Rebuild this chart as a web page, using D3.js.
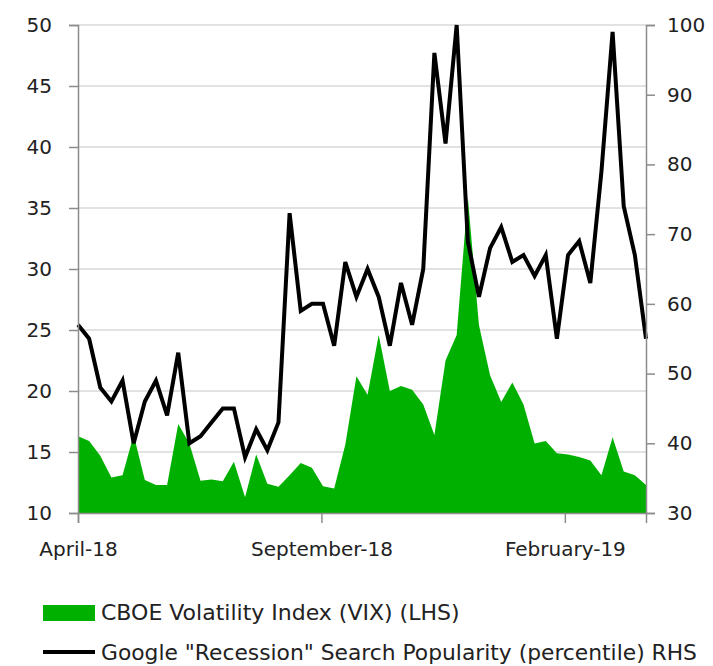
<!DOCTYPE html>
<html>
<head>
<meta charset="utf-8">
<script src="https://cdn.jsdelivr.net/npm/d3@7"></script>
<style>
  body { margin: 0; background: #fff; }
  text { font-family: "DejaVu Sans", sans-serif; fill: #222; }
  .grid line { stroke: #d9d9d9; stroke-width: 1.5; }
  .axis path, .axis line { stroke: #8c8c8c; stroke-width: 1.5; }
</style>
</head>
<body>
<svg id="chart" width="713" height="666"></svg>
<script>
// weekly observations
var weeks = [
  "2018-04-01", "2018-04-08", "2018-04-15", "2018-04-22", "2018-04-29",
  "2018-05-06", "2018-05-13", "2018-05-20", "2018-05-27",
  "2018-06-03", "2018-06-10", "2018-06-17", "2018-06-24",
  "2018-07-01", "2018-07-08", "2018-07-15", "2018-07-22", "2018-07-29",
  "2018-08-05", "2018-08-12", "2018-08-19", "2018-08-26",
  "2018-09-02", "2018-09-09", "2018-09-16", "2018-09-23", "2018-09-30",
  "2018-10-07", "2018-10-14", "2018-10-21", "2018-10-28",
  "2018-11-04", "2018-11-11", "2018-11-18", "2018-11-25",
  "2018-12-02", "2018-12-09", "2018-12-16", "2018-12-23", "2018-12-30",
  "2019-01-06", "2019-01-13", "2019-01-20", "2019-01-27",
  "2019-02-03", "2019-02-10", "2019-02-17", "2019-02-24",
  "2019-03-03", "2019-03-10", "2019-03-17", "2019-03-24"
];

var vix = [
  16.3, 15.9, 14.7, 12.9, 13.1, 16.4, 12.7, 12.3, 12.3, 17.3,
  15.7, 12.65, 12.75, 12.6, 14.2, 11.3, 14.8, 12.4, 12.15, 13.1,
  14.1, 13.7, 12.2, 12.0, 15.6, 21.2, 19.7, 24.6, 20.0, 20.4,
  20.1, 18.9, 16.4, 22.5, 24.6, 35.9, 25.4, 21.3, 19.1, 20.7,
  18.9, 15.7, 15.9, 14.9, 14.8, 14.6, 14.3, 13.1, 16.2, 13.4,
  13.1, 12.3
];

var recession = [
  57, 55, 48, 46, 49, 40, 46, 49, 44, 53,
  40, 41, 43, 45, 45, 38, 42, 39, 43, 73,
  59, 60, 60, 54, 66, 61, 65, 61, 54, 63,
  57, 65, 96, 83, 100, 69, 61, 68, 71, 66,
  67, 64, 67, 55, 67, 69, 63, 79, 99, 74,
  67, 55
];

var leftTicks = [10, 15, 20, 25, 30, 35, 40, 45, 50];
var rightTicks = [30, 40, 50, 60, 70, 80, 90, 100];
var monthTicks = ["2018-04-01", "2018-09-01", "2019-02-01"];
var monthLabels = ["April-18", "September-18", "February-19"];

var legendLabels = [
  "CBOE Volatility Index (VIX) (LHS)",
  "Google \"Recession\" Search Popularity (percentile) RHS"
];

var svg = d3.select("svg#chart"),
    margin = {top: 25, right: 67, bottom: 153, left: 78},
    width = +svg.attr("width") - margin.left - margin.right,
    height = +svg.attr("height") - margin.top - margin.bottom;

var parseDay = d3.timeParse("%Y-%m-%d");

var data = weeks.map(function(w, i) {
  return {date: parseDay(w), vix: vix[i], rec: recession[i]};
});

var x = d3.scaleTime()
    .domain(d3.extent(data, function(d) { return d.date; }))
    .range([0, width]);
var yL = d3.scaleLinear().domain([10, 50]).range([height, 0]);
var yR = d3.scaleLinear().domain([30, 100]).range([height, 0]);

var g = svg.append("g")
    .attr("transform", "translate(" + margin.left + "," + margin.top + ")");

// gridlines on the left scale
g.append("g")
    .attr("class", "grid")
    .selectAll("line")
    .data(leftTicks.slice(1))
  .enter().append("line")
    .attr("x1", 0)
    .attr("x2", width)
    .attr("y1", function(d) { return yL(d); })
    .attr("y2", function(d) { return yL(d); });

var area = d3.area()
    .x(function(d) { return x(d.date); })
    .y0(height)
    .y1(function(d) { return yL(d.vix); });

g.append("path")
    .datum(data)
    .attr("fill", "#00b000")
    .attr("d", area);

var line = d3.line()
    .x(function(d) { return x(d.date); })
    .y(function(d) { return yR(d.rec); });

g.append("path")
    .datum(data)
    .attr("fill", "none")
    .attr("stroke", "#000")
    .attr("stroke-width", 4)
    .attr("stroke-linejoin", "miter")
    .attr("d", line);

// axes
g.append("g")
    .attr("class", "axis")
    .call(d3.axisLeft(yL).tickValues(leftTicks).tickSize(9).tickPadding(17));

g.append("g")
    .attr("class", "axis")
    .attr("transform", "translate(" + width + ",0)")
    .call(d3.axisRight(yR).tickValues(rightTicks).tickSize(9).tickPadding(12));

g.append("g")
    .attr("class", "axis")
    .attr("transform", "translate(0," + height + ")")
    .call(d3.axisBottom(x)
      .tickValues(monthTicks.map(parseDay))
      .tickSize(10)
      .tickPadding(19)
      .tickFormat(function(d, i) { return monthLabels[i]; }));

g.selectAll(".axis text")
    .attr("fill", "#222")
    .style("font-size", "20px")
    .style("font-family", "'DejaVu Sans', sans-serif");

// legend
var legend = svg.append("g")
    .attr("transform", "translate(43,0)");

legend.append("rect")
    .attr("x", 0)
    .attr("y", 605)
    .attr("width", 52)
    .attr("height", 16)
    .attr("fill", "#00b000");

legend.append("text")
    .attr("x", 58)
    .attr("y", 620)
    .style("font-size", "22px")
    .text(legendLabels[0]);

legend.append("line")
    .attr("x1", 0)
    .attr("x2", 52)
    .attr("y1", 652)
    .attr("y2", 652)
    .attr("stroke", "#000")
    .attr("stroke-width", 4);

legend.append("text")
    .attr("x", 58)
    .attr("y", 660)
    .style("font-size", "21.8px")
    .text(legendLabels[1]);
</script>
</body>
</html>
